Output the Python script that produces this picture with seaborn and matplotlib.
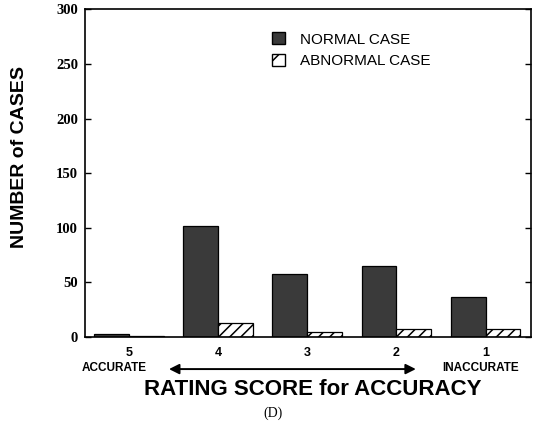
import pandas as pd
import matplotlib
matplotlib.use("Agg")
import matplotlib.pyplot as plt
import matplotlib.transforms as mtransforms
from matplotlib.patches import Patch
import seaborn as sns

# data
scores = ["5", "4", "3", "2", "1"]
normal_cases = [3, 102, 58, 65, 37]
abnormal_cases = [1, 13, 5, 7, 7]
groups = ["NORMAL CASE", "ABNORMAL CASE"]
yticks = [0, 50, 100, 150, 200, 250, 300]

df = pd.DataFrame({
    "score": scores * 2,
    "cases": normal_cases + abnormal_cases,
    "group": [groups[0]] * len(scores) + [groups[1]] * len(scores),
})

sns.set_style("ticks")
plt.rcParams["font.family"] = ["Liberation Sans", "DejaVu Sans"]
plt.rcParams["hatch.linewidth"] = 1.1
plt.rcParams["text.color"] = "black"
plt.rcParams["xtick.color"] = "black"
plt.rcParams["ytick.color"] = "black"

dark = "#3a3a3a"
fig = plt.figure(figsize=(5.35, 4.29), dpi=100)
ax = fig.add_axes([0.159, 0.2145, 0.8335, 0.7635])

sns.barplot(data=df, x="score", y="cases", hue="group", order=scores,
            hue_order=groups, palette=[dark, "white"], saturation=1,
            width=0.78, gap=0, edgecolor="black", linewidth=0.9,
            legend=False, ax=ax)
for bar in ax.containers[1]:
    bar.set_hatch("///")

ax.set_xlim(-0.49, 4.51)
ax.set_ylim(0, 300)
ax.set_yticks(yticks)
ax.set_xlabel("")
ax.set_ylabel("")
for s in ax.spines.values():
    s.set_visible(True)
    s.set_linewidth(1.2)
    s.set_color("black")

ax.tick_params(axis="y", direction="in", length=4, width=1, right=True,
               labelsize=10.5, pad=5)
ax.tick_params(axis="x", length=0, labelsize=9, pad=7)
for lab in ax.get_yticklabels():
    lab.set_fontfamily("Liberation Serif")
    lab.set_fontweight("bold")
for lab in ax.get_xticklabels():
    lab.set_fontweight("bold")

# end labels and double arrow under the axis
trans = mtransforms.blended_transform_factory(ax.transData, ax.transAxes)
ax.text(-0.16, -0.095, "ACCURATE", transform=trans, ha="center", va="center",
        fontsize=8.5, fontweight="bold", clip_on=False)
ax.text(3.95, -0.095, "INACCURATE", transform=trans, ha="center", va="center",
        fontsize=8.5, fontweight="bold", clip_on=False)
ax.annotate("", xy=(0.42, -0.098), xytext=(3.25, -0.098), xycoords=trans,
            textcoords=trans, annotation_clip=False,
            arrowprops=dict(arrowstyle="<|-|>", color="black", lw=1.4,
                            mutation_scale=15))

handles = [Patch(facecolor=dark, edgecolor="black", label=groups[0]),
           Patch(facecolor="white", edgecolor="black", hatch="/", label=groups[1])]
ax.legend(handles=handles, loc="upper left", bbox_to_anchor=(0.42, 0.93),
          frameon=False, fontsize=11, handlelength=0.8, handleheight=0.8,
          handletextpad=1.0, borderpad=0, borderaxespad=0, labelspacing=0.5)

fig.text(0.037, 0.634, "NUMBER of CASES", rotation=90, ha="center", va="center",
         fontsize=14, fontweight="bold")
fig.text(0.585, 0.091, "RATING SCORE for ACCURACY", ha="center", va="center",
         fontsize=16, fontweight="bold")
fig.text(0.51, 0.037, "(D)", ha="center", va="center", fontsize=10,
         fontfamily="Liberation Serif")

fig.savefig("out.png", dpi=100)
